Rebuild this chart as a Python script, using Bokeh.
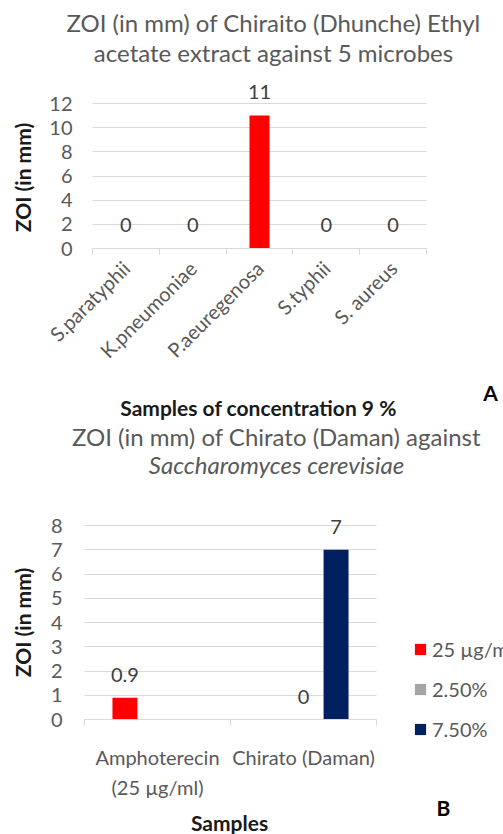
import math
from bokeh.plotting import figure
from bokeh.models import (FixedTicker, Range1d, ColumnDataSource, Label, LabelSet, Grid,
                          Legend, LegendItem)
from bokeh.embed import file_html
from bokeh.resources import INLINE
from bokeh.core.properties import value

# ---------------- data: chart A ----------------
microbes = ["S.paratyphii", "K.pneumoniae", "P.aeuregenosa", "S.typhii", "S. aureus"]
zoi_a = [0, 0, 11, 0, 0]
y_ticks_a = [0, 2, 4, 6, 8, 10, 12]

# ---------------- data: chart B ----------------
samples_b = ["Amphoterecin\n(25 µg/ml)", "Chirato (Daman)"]
series_b = ["25 µg/ml", "2.50%", "7.50%"]
zoi_b_25ug = [0.9, None]
zoi_b_2_5 = [None, 0]
zoi_b_7_5 = [None, 7]
y_ticks_b = [0, 1, 2, 3, 4, 5, 6, 7, 8]

FONT = "Lato"
TICK_COL = "#595959"
LBL_COL = "#404040"
GRID_COL = "#D9D9D9"
DARK = "#1a1a1a"
W = 503


def fmt(v):
    return f"{v:g}"


def make_chart(h, area, n_cat, ymax, yticks, names, xstand, ystand):
    """Frame covers the whole canvas; axes are pinned at 0 and bounded to the plot area."""
    l, r, t, b = area
    fx = lambda px: (px - l) * n_cat / (r - l)
    fy = lambda py: (b - py) * ymax / (b - t)
    p = figure(width=W, height=h, x_range=Range1d(fx(0), fx(W)), y_range=Range1d(fy(h), fy(0)),
               output_backend="svg", toolbar_location=None, title=None,
               min_border_left=0, min_border_right=0, min_border_top=0, min_border_bottom=0)
    p.outline_line_color = None
    p.background_fill_color = "white"
    p.border_fill_color = "white"

    p.xaxis.fixed_location = 0
    p.xaxis.bounds = (0, n_cat)
    p.xaxis.ticker = FixedTicker(ticks=[i + 0.5 for i in range(n_cat)],
                                 minor_ticks=list(range(n_cat + 1)))
    p.xaxis.major_label_overrides = {i + 0.5: n for i, n in enumerate(names)}
    p.xaxis.major_tick_line_color = None
    p.xaxis.major_tick_out = 0
    p.xaxis.major_tick_in = 0
    p.xaxis.minor_tick_line_color = GRID_COL
    p.xaxis.minor_tick_out = 6
    p.xaxis.minor_tick_in = 0
    p.xaxis.axis_line_color = GRID_COL
    p.xaxis.major_label_text_font = FONT
    p.xaxis.major_label_text_font_size = "20px"
    p.xaxis.major_label_text_color = TICK_COL
    p.xaxis.major_label_standoff = xstand
    p.xgrid.grid_line_color = None

    p.yaxis.fixed_location = 0
    p.yaxis.bounds = (0, ymax)
    p.yaxis.ticker = FixedTicker(ticks=yticks)
    p.yaxis.axis_line_color = None
    p.yaxis.major_tick_line_color = None
    p.yaxis.minor_tick_line_color = None
    p.yaxis.major_tick_out = 0
    p.yaxis.major_tick_in = 0
    p.yaxis.major_label_text_font = FONT
    p.yaxis.major_label_text_font_size = "20px"
    p.yaxis.major_label_text_color = TICK_COL
    p.yaxis.major_label_standoff = ystand

    p.ygrid.ticker = FixedTicker(ticks=yticks)
    p.ygrid.grid_line_color = GRID_COL
    if "cross_bounds" in Grid.properties():
        p.ygrid.cross_bounds = (0, n_cat)
    else:
        p.ygrid.grid_line_color = None
        p.segment(x0=[0] * len(yticks), x1=[n_cat] * len(yticks), y0=yticks, y1=yticks,
                  line_color=GRID_COL, line_width=1)
    return p, fx, fy


def add_text(p, x, y, text, size="24px", color=TICK_COL, style="normal", angle=0.0):
    p.add_layout(Label(x=x, y=y, text=text, text_font=FONT, text_font_size=size,
                       text_color=color, text_font_style=style, text_align="center",
                       text_baseline="middle", angle=angle))


def add_value_labels(p, xs, vals, offset):
    src = ColumnDataSource(dict(x=xs, y=vals, lbl=[fmt(v) for v in vals]))
    p.add_layout(LabelSet(x="x", y="y", text="lbl", source=src, y_offset=offset,
                          text_align="center", text_baseline="middle",
                          text_font=value(FONT), text_font_size="20px",
                          text_color=LBL_COL))


# ================= chart A =================
HA = 421
pa, ax, ay = make_chart(HA, (92, 426, 103, 248), len(microbes), 12, y_ticks_a,
                        microbes, 10, 20)
pa.xaxis.major_label_orientation = math.pi / 4

xs_a = [i + 0.5 for i in range(len(microbes))]
pa.vbar(x=xs_a, top=zoi_a, width=0.3, fill_color="#FF0000", line_color=None)
add_value_labels(pa, xs_a, zoi_a, 24)

add_text(pa, ax(273), ay(22), "ZOI (in mm) of Chiraito (Dhunche) Ethyl")
add_text(pa, ax(273), ay(52), "acetate extract against 5 microbes")
add_text(pa, ax(22), ay(177), "ZOI (in mm)", size="21px", color=DARK, style="bold",
         angle=math.pi / 2)
add_text(pa, ax(258), ay(407), "Samples of concentration 9 %", size="21px", color=DARK,
         style="bold")
add_text(pa, ax(490), ay(392), "A", size="21px", color="#000000", style="bold")

# ================= chart B =================
HB = 834 - HA
n_b = len(samples_b)
pb, bx, by = make_chart(HB, (84, 376, 104, 298), n_b, 8, y_ticks_b, samples_b, 19, 22)
pb.xaxis.major_label_text_line_height = 1.25

nan = float("nan")
offsets = [-0.223, 0.0, 0.223]
colors_b = ["#FF0000", "#A5A5A5", "#002060"]
vals_b = [zoi_b_25ug, zoi_b_2_5, zoi_b_7_5]
items = []
for name, off, col, vals in zip(series_b, offsets, colors_b, vals_b):
    xs = [i + 0.5 + off for i in range(n_b)]
    tops = [nan if v is None else v for v in vals]
    r = pb.vbar(x=xs, top=tops, width=0.171, fill_color=col, line_color=None)
    items.append(LegendItem(label=name, renderers=[r]))
    add_value_labels(pb, [x for x, v in zip(xs, vals) if v is not None],
                     [v for v in vals if v is not None], 23)

legend = Legend(items=items, location=(413, 93), orientation="vertical",
                glyph_width=14, glyph_height=14, label_text_font=FONT,
                label_text_font_size="20px", label_text_color=TICK_COL,
                label_standoff=5, spacing=16, padding=0, margin=0, label_height=20,
                border_line_color=None, background_fill_alpha=0)
pb.add_layout(legend)

add_text(pb, bx(276), by(15), "ZOI (in mm) of Chirato (Daman) against")
add_text(pb, bx(276), by(43), "Saccharomyces cerevisiae", style="italic")
add_text(pb, bx(22), by(201), "ZOI (in mm)", size="21px", color=DARK, style="bold",
         angle=math.pi / 2)
add_text(pb, bx(229), by(401), "Samples", size="21px", color=DARK, style="bold")
add_text(pb, bx(443), by(386), "B", size="21px", color="#000000", style="bold")

open("out.html", "w").write(file_html([pa, pb], INLINE))
